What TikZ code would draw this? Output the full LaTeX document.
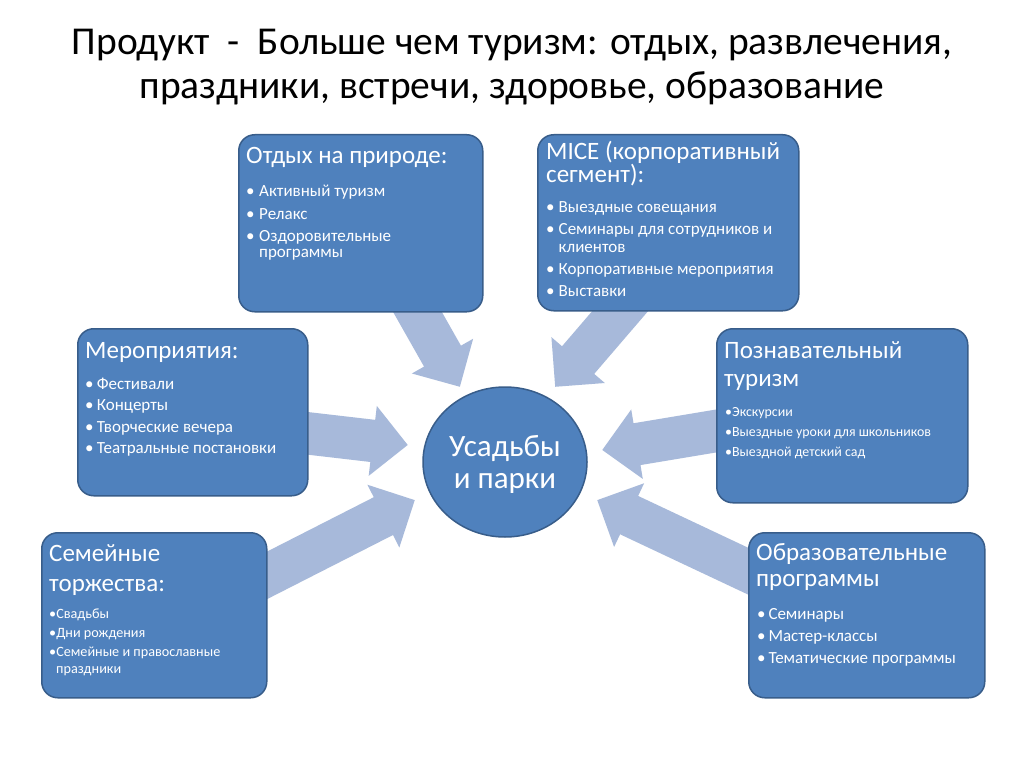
\documentclass[tikz,border=0pt]{standalone}
\usepackage{fontspec}
\setmainfont{Carlito}
\usetikzlibrary{shapes.arrows,shapes.geometric,calc}
\definecolor{boxc}{HTML}{4F81BD}
\definecolor{boxd}{HTML}{385D8A}
\definecolor{arrc}{HTML}{A7B9DA}
\newcommand\bul[2][12pt]{\makebox[#1][l]{•}#2}
\newcommand\ind[2][12pt]{\hspace*{#1}#2}
\newcommand\blockarrow[3]{%
  \path let \p1=(#1), \p2=(#2),
    \n1={atan2(\y2-\y1,\x2-\x1)}, \n2={veclen(\x2-\x1,\y2-\y1)} in
    node[barrow, rotate=\n1, minimum height=\n2, anchor=tip] (#3) at (\p2) {};}
\begin{document}
\begin{tikzpicture}[x=1pt,y=-1pt,
  box/.style={draw=boxd, line width=1.5pt, fill=boxc, rounded corners=16pt, anchor=north west, inner sep=0pt},
  hd/.style={text=white, anchor=base west, inner sep=0pt, align=left},
  lst/.style={text=white, anchor=base west, inner sep=0pt, align=left},
  barrow/.style={single arrow, fill=arrc, draw=none, inner xsep=0pt, inner ysep=21pt,
    single arrow head extend=14pt, single arrow tip angle=90, single arrow head indent=0pt}]
\useasboundingbox[fill=white] (0,0) rectangle (1024,767);

% title (anchor = baseline of last line)
\node[anchor=base, align=center, inner sep=0pt,
  font=\fontsize{39.5}{44.5}\selectfont] (title) at (512,99)
  {Продукт \ - \ Больше чем туризм: отдых, развлечения,\\праздники, встречи, здоровье, образование};

% arrow end points
\coordinate (a1s) at (405,290);  \coordinate (a1t) at (460,387);
\coordinate (a2s) at (640,288);  \coordinate (a2t) at (555,387);
\coordinate (a3s) at (279,430);  \coordinate (a3t) at (408,445);
\coordinate (a4s) at (254,582);  \coordinate (a4t) at (415,500);
\coordinate (a5s) at (740,427);  \coordinate (a5t) at (602,450);
\coordinate (a6s) at (769,581);  \coordinate (a6t) at (597,500);
\blockarrow{a1s}{a1t}{ar1}
\blockarrow{a2s}{a2t}{ar2}
\blockarrow{a3s}{a3t}{ar3}
\blockarrow{a4s}{a4t}{ar4}
\blockarrow{a5s}{a5t}{ar5}
\blockarrow{a6s}{a6t}{ar6}

% boxes
\node[box, minimum width=244, minimum height=177] (b1) at (238,134) {};
\node[box, minimum width=261, minimum height=176] (b2) at (537,134) {};
\node[box, minimum width=230, minimum height=167] (b3) at (77,328) {};
\node[box, minimum width=251, minimum height=174] (b4) at (716,328) {};
\node[box, minimum width=225, minimum height=165] (b5) at (41,532) {};
\node[box, minimum width=236, minimum height=165] (b6) at (748,532) {};

% centre
\node[ellipse, draw=boxd, line width=1.5pt, fill=boxc, minimum width=164, minimum height=150] (c) at (505,462) {};
\node[text=white, align=center, inner sep=0pt, anchor=base, font=\fontsize{31}{32}\selectfont] (ct) at (505,488) {Усадьбы\\и парки};

% box texts (anchor = baseline of last line)
\node[hd, font=\fontsize{25}{25}\selectfont] (b1h) at (246,164) {Отдых на природе:};
\node[lst, font=\fontsize{17}{17}\selectfont] (b1l) at (246,258)
  {\bul[13pt]{Активный туризм}\\[5pt]\bul[13pt]{Релакс}\\[5pt]\bul[13pt]{Оздоровительные}\\\ind[13pt]{программы}};

\node[hd, font=\fontsize{25}{23}\selectfont] (b2h) at (546,183) {MICE (корпоративный\\сегмент):};
\node[lst, font=\fontsize{17}{18.5}\selectfont] (b2l) at (546,296.5)
  {\bul[12.5pt]{Выездные совещания}\\[3.5pt]\bul[12.5pt]{Семинары для сотрудников и}\\\ind[12.5pt]{клиентов}\\[3.5pt]\bul[12.5pt]{Корпоративные мероприятия}\\[3.5pt]\bul[12.5pt]{Выставки}};

\node[hd, font=\fontsize{25}{25}\selectfont] (b3h) at (85,358) {Мероприятия:};
\node[lst, font=\fontsize{17}{17}\selectfont] (b3l) at (85,453.5)
  {\bul[11.7pt]{Фестивали}\\[4.5pt]\bul[11.7pt]{Концерты}\\[4.5pt]\bul[11.7pt]{Творческие вечера}\\[4.5pt]\bul[11.7pt]{Театральные постановки}};

\node[hd, font=\fontsize{25}{28.5}\selectfont] (b4h) at (724,386.5) {Познавательный\\туризм};
\node[lst, font=\fontsize{13.9}{20}\selectfont] (b4l) at (725,456.5)
  {•Экскурсии\\•Выездные уроки для школьников\\•Выездной детский сад};

\node[hd, font=\fontsize{25}{29.5}\selectfont] (b5h) at (49,591) {Семейные\\торжества:};
\node[lst, font=\fontsize{14.2}{16.5}\selectfont] (b5l) at (49,673)
  {•Свадьбы\\[2.75pt]•Дни рождения\\[2.75pt]•Семейные и православные\\\ind[7pt]{праздники}};

\node[hd, font=\fontsize{25}{26}\selectfont] (b6h) at (756,586) {Образовательные\\программы};
\node[lst, font=\fontsize{17}{21.7}\selectfont] (b6l) at (757,663.3)
  {\bul[11.3pt]{Семинары}\\\bul[11.3pt]{Мастер-классы}\\\bul[11.3pt]{Тематические программы}};
\end{tikzpicture}
\end{document}
